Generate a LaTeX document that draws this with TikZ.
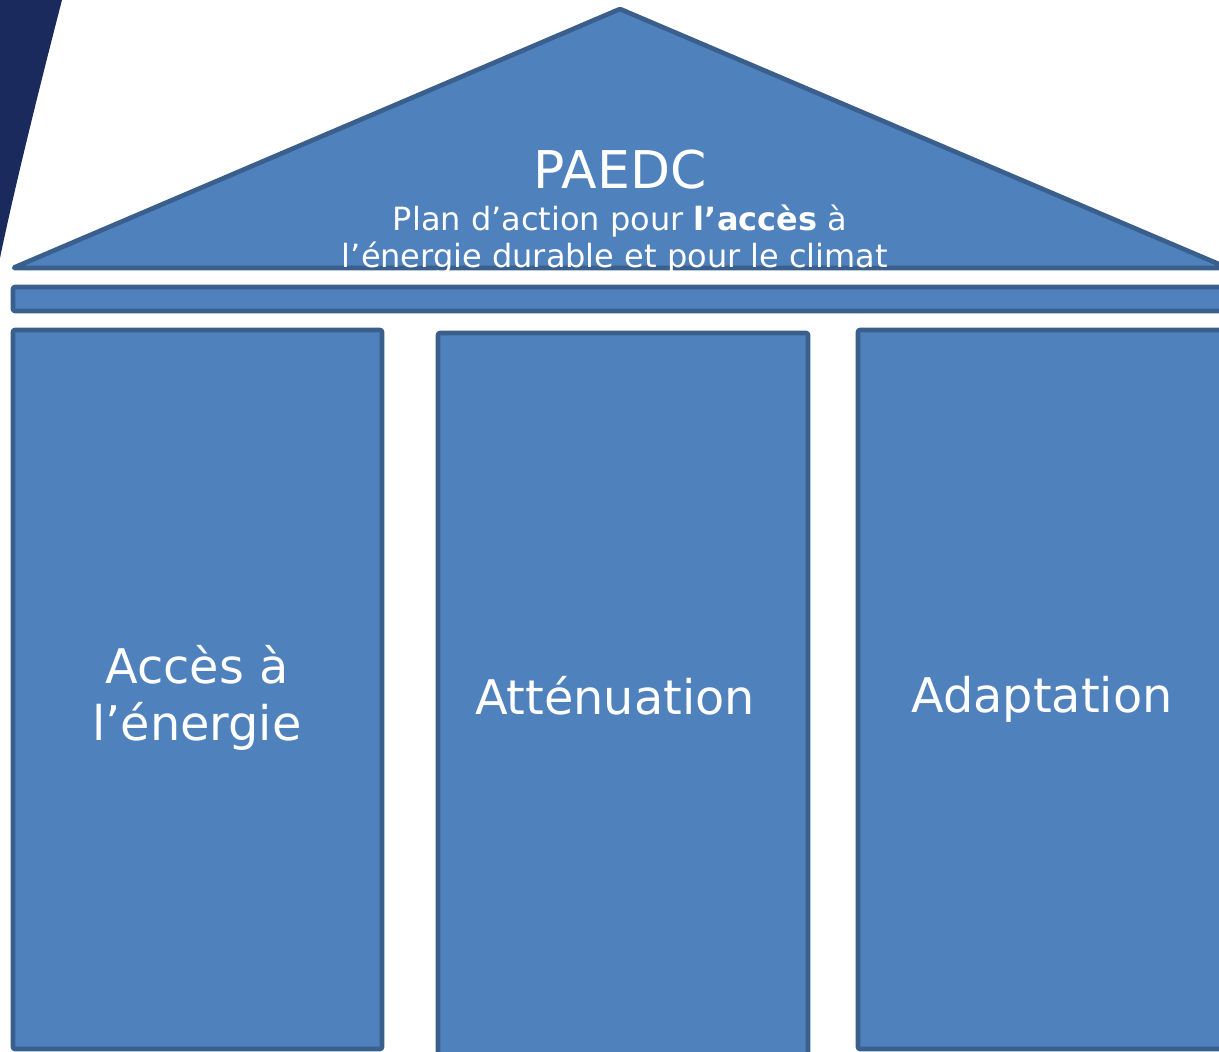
\documentclass[tikz,border=0pt]{standalone}
\usepackage{fontspec}
\setmainfont{DejaVu Sans}
\definecolor{pfill}{HTML}{4F81BD}
\definecolor{pline}{HTML}{3A5F8C}
\definecolor{navy}{HTML}{1B2A5C}
\begin{document}
\begin{tikzpicture}[x=0.75pt,y=-0.75pt,
  part/.style={fill=pfill,draw=pline,line width=3.5pt,line join=round},
  lbl/.style={text=white,inner sep=0pt,anchor=base},
  big/.style={lbl,font=\fontsize{39}{47}\selectfont},
  sub/.style={lbl,font=\fontsize{24}{29}\selectfont},
  col/.style={lbl,font=\fontsize{35.8}{43}\selectfont}]
\useasboundingbox (0,0) rectangle (1219,1051);
\fill[white] (0,0) rectangle (1219,1051);
% dark corner shape
\fill[navy] (0,0) -- (62,0) .. controls (40,85) and (14,190) .. (0,258) -- cycle;
% roof
\draw[part,rounded corners=1pt] (13,268) -- (620,9) -- (1228,268) -- cycle;
% beam
\draw[part,rounded corners=1.5pt] (13,287) rectangle (1230,311);
% columns
\draw[part,rounded corners=1.5pt] (13,330) rectangle (382,1049);
\draw[part,rounded corners=1.5pt] (438,333) rectangle (808,1060);
\draw[part,rounded corners=1.5pt] (858,330) rectangle (1230,1049);
% texts
\node[big] (title) at (620,188) {PAEDC};
\node[sub] (sub1) at (620,230) {Plan d’action pour \textbf{l’accès} à};
\node[sub] (sub2) at (615,267) {l’énergie durable et pour le climat};
\node[col] (c1a) at (197,683) {Accès à};
\node[col] (c1b) at (197,740) {l’énergie};
\node[col] (c2) at (615,714) {Atténuation};
\node[col] (c3) at (1042,712) {Adaptation};
\end{tikzpicture}
\end{document}
